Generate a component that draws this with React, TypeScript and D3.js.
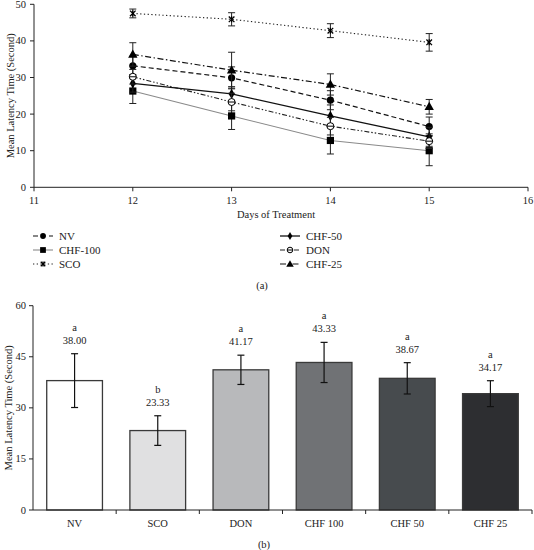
import React from "react";
import * as d3 from "d3";

const days = [12, 13, 14, 15];
const nvVals = [33.2, 29.9, 23.8, 16.6];
const nvErr = [2.6, 3.0, 2.6, 2.6];
const chf100Vals = [26.3, 19.5, 12.8, 10.0];
const chf100Err = [3.4, 3.7, 3.7, 4.1];
const scoVals = [47.5, 45.9, 42.8, 39.6];
const scoErr = [1.2, 1.8, 1.9, 2.4];
const chf50Vals = [28.4, 25.5, 19.5, 13.8];
const chf50Err = [2.4, 2.0, 3.0, 2.6];
const donVals = [30.2, 23.3, 16.7, 12.6];
const donErr = [2.0, 2.4, 2.4, 2.0];
const chf25Vals = [36.3, 32.0, 28.1, 22.0];
const chf25Err = [3.2, 4.9, 2.9, 2.0];

const xTicks = [11, 12, 13, 14, 15, 16];
const yTicksA = [0, 10, 20, 30, 40, 50];

const barCats = ["NV", "SCO", "DON", "CHF 100", "CHF 50", "CHF 25"];
const barVals = [38.0, 23.33, 41.17, 43.33, 38.67, 34.17];
const barErr = [7.9, 4.35, 4.3, 5.9, 4.6, 3.8];
const barLetters = ["a", "b", "a", "a", "a", "a"];
const barColors = ["#ffffff", "#e0e0e1", "#b8b9bb", "#707275", "#474b4e", "#2d2e31"];
const yTicksB = [0, 15, 30, 45, 60];

const FONT = "'Liberation Serif', 'DejaVu Serif', serif";

type Series = {
  name: string;
  vals: number[];
  err: number[];
  dash: string;
  stroke: string;
  width: number;
  marker: string;
};

const series: Series[] = [
  { name: "NV", vals: nvVals, err: nvErr, dash: "5,3", stroke: "#111", width: 1.2, marker: "circle" },
  { name: "CHF-100", vals: chf100Vals, err: chf100Err, dash: "", stroke: "#8a8a8a", width: 1.1, marker: "square" },
  { name: "SCO", vals: scoVals, err: scoErr, dash: "1.3,2.4", stroke: "#222", width: 1.1, marker: "x" },
  { name: "CHF-50", vals: chf50Vals, err: chf50Err, dash: "", stroke: "#111", width: 1.3, marker: "diamond" },
  { name: "DON", vals: donVals, err: donErr, dash: "5,2,1.5,2,1.5,2", stroke: "#222", width: 1.1, marker: "open" },
  { name: "CHF-25", vals: chf25Vals, err: chf25Err, dash: "6,2.5,1.5,2.5", stroke: "#111", width: 1.2, marker: "triangle" },
];

function Marker({ type, x, y, k = 1 }: { type: string; x: number; y: number; k?: number }) {
  if (type === "circle") return <circle cx={x} cy={y} r={3.6 * k} fill="#000" />;
  if (type === "square") return <rect x={x - 3.6 * k} y={y - 3.6 * k} width={7.2 * k} height={7.2 * k} fill="#000" />;
  if (type === "x")
    return (
      <g stroke="#000" strokeWidth={1.3}>
        <line x1={x - 2.8 * k} y1={y - 2.8 * k} x2={x + 2.8 * k} y2={y + 2.8 * k} />
        <line x1={x - 2.8 * k} y1={y + 2.8 * k} x2={x + 2.8 * k} y2={y - 2.8 * k} />
        <line x1={x} y1={y - 3 * k} x2={x} y2={y + 3 * k} />
      </g>
    );
  if (type === "diamond")
    return <path d={d3.symbol(d3.symbolDiamond, 30 * k * k)() as string} transform={`translate(${x},${y})`} fill="#000" />;
  if (type === "open")
    return (
      <g>
        <circle cx={x} cy={y} r={3.5 * k} fill="#fff" stroke="#000" strokeWidth={1} />
        <line x1={x - 3.5 * k} y1={y} x2={x + 3.5 * k} y2={y} stroke="#000" strokeWidth={1} />
      </g>
    );
  return <path d={d3.symbol(d3.symbolTriangle, 38 * k * k)() as string} transform={`translate(${x},${y + 0.5})`} fill="#000" />;
}

export default function App() {
  // Chart (a)
  const xA = d3.scaleLinear().domain([11, 16]).range([34, 528]);
  const yA = d3.scaleLinear().domain([0, 50]).range([187.3, 4.3]);
  const line = (vals: number[]) =>
    d3
      .line<number>()
      .x((_, i) => xA(days[i]))
      .y((v) => yA(v))(vals) as string;

  // Chart (b)
  const xB = d3.scaleBand<string>().domain(barCats).range([33, 532]).paddingInner(0.33).paddingOuter(0.165);
  const yB = d3.scaleLinear().domain([0, 60]).range([510, 305.7]);
  const bandEdges = barCats.map((_, i) => 33 + (i + 1) * ((532 - 33) / barCats.length));

  const legendLeft = [series[0], series[1], series[2]];
  const legendRight = [series[3], series[4], series[5]];
  const legendRows = [236, 250, 264];

  const legendItem = (s: Series, x0: number, y: number, tx: number) => (
    <g key={s.name}>
      <line x1={x0} x2={x0 + 20} y1={y} y2={y} stroke={s.stroke} strokeWidth={s.width} strokeDasharray={s.dash || undefined} />
      <Marker type={s.marker} x={x0 + 10} y={y} k={0.8} />
      <text x={tx} y={y + 4} fontSize={11} fontFamily={FONT} fill="#222">
        {s.name}
      </text>
    </g>
  );

  return (
    <svg width={534} height={550} style={{ position: "absolute", left: 0, top: 0, background: "#fff" }}>
      {/* ---------- Chart (a) ---------- */}
      <g>
        <line x1={34} x2={34} y1={yA(50)} y2={yA(0)} stroke="#222" strokeWidth={1} />
        <line x1={34} x2={528} y1={yA(0)} y2={yA(0)} stroke="#222" strokeWidth={1} />
        {yTicksA.map((t) => (
          <g key={"ya" + t}>
            <line x1={30} x2={34} y1={yA(t)} y2={yA(t)} stroke="#222" />
            <text x={26} y={yA(t) + 3.5} textAnchor="end" fontSize={10.5} fontFamily={FONT} fill="#222">
              {t}
            </text>
          </g>
        ))}
        {xTicks.map((t) => (
          <g key={"xa" + t}>
            <line x1={xA(t)} x2={xA(t)} y1={yA(0)} y2={yA(0) + 4} stroke="#222" />
            <text x={xA(t)} y={204} textAnchor="middle" fontSize={10.5} fontFamily={FONT} fill="#222">
              {t}
            </text>
          </g>
        ))}
        <text x={276} y={218} textAnchor="middle" fontSize={10.5} fontFamily={FONT} fill="#222">
          Days of Treatment
        </text>
        <text
          transform={`translate(14,${(yA(0) + yA(50)) / 2}) rotate(-90)`}
          textAnchor="middle"
          fontSize={10.5}
          fontFamily={FONT}
          fill="#222"
        >
          Mean Latency Time (Second)
        </text>

        {series.map((s) => (
          <g key={"s" + s.name}>
            <path d={line(s.vals)} fill="none" stroke={s.stroke} strokeWidth={s.width} strokeDasharray={s.dash || undefined} />
            {s.vals.map((v, i) => {
              const x = xA(days[i]);
              const y1 = yA(v + s.err[i]);
              const y2 = yA(v - s.err[i]);
              return (
                <g key={i} stroke="#222" strokeWidth={1}>
                  <line x1={x} x2={x} y1={y1} y2={y2} />
                  <line x1={x - 3.5} x2={x + 3.5} y1={y1} y2={y1} />
                  <line x1={x - 3.5} x2={x + 3.5} y1={y2} y2={y2} />
                </g>
              );
            })}
            {s.vals.map((v, i) => (
              <Marker key={"m" + i} type={s.marker} x={xA(days[i])} y={yA(v)} />
            ))}
          </g>
        ))}

        {legendLeft.map((s, i) => legendItem(s, 33, legendRows[i], 59))}
        {legendRight.map((s, i) => legendItem(s, 280, legendRows[i], 306))}

        <text x={262} y={289} textAnchor="middle" fontSize={10.5} fontFamily={FONT} fill="#222">
          (a)
        </text>
      </g>

      {/* ---------- Chart (b) ---------- */}
      <g>
        {barCats.map((c, i) => {
          const x = xB(c) as number;
          const w = xB.bandwidth();
          const v = barVals[i];
          const e = barErr[i];
          const cx = x + w / 2;
          const top = yB(v + e);
          return (
            <g key={"b" + c}>
              <rect x={x} y={yB(v)} width={w} height={yB(0) - yB(v)} fill={barColors[i]} stroke="#3a3a3a" strokeWidth={1.3} />
              <g stroke="#111" strokeWidth={1.2}>
                <line x1={cx} x2={cx} y1={top} y2={yB(v - e)} />
                <line x1={cx - 3.5} x2={cx + 3.5} y1={top} y2={top} />
                <line x1={cx - 3.5} x2={cx + 3.5} y1={yB(v - e)} y2={yB(v - e)} />
              </g>
              <text x={cx} y={top - 10} textAnchor="middle" fontSize={10.5} fontFamily={FONT} fill="#222">
                {v.toFixed(2)}
              </text>
              <text x={cx} y={top - 23} textAnchor="middle" fontSize={10.5} fontFamily={FONT} fill="#222">
                {barLetters[i]}
              </text>
              <text x={cx} y={527} textAnchor="middle" fontSize={10.5} fontFamily={FONT} fill="#222">
                {c}
              </text>
            </g>
          );
        })}
        <line x1={33} x2={33} y1={yB(60)} y2={yB(0)} stroke="#222" strokeWidth={1} />
        <line x1={33} x2={532} y1={yB(0)} y2={yB(0)} stroke="#222" strokeWidth={1} />
        {yTicksB.map((t) => (
          <g key={"yb" + t}>
            <line x1={29} x2={33} y1={yB(t)} y2={yB(t)} stroke="#222" />
            <text x={26} y={yB(t) + 3.5} textAnchor="end" fontSize={10.5} fontFamily={FONT} fill="#222">
              {t}
            </text>
          </g>
        ))}
        {bandEdges.map((bx, i) => (
          <line key={"be" + i} x1={bx} x2={bx} y1={yB(0)} y2={yB(0) + 4} stroke="#222" />
        ))}
        <text
          transform={`translate(12,${(yB(0) + yB(60)) / 2}) rotate(-90)`}
          textAnchor="middle"
          fontSize={10.5}
          fontFamily={FONT}
          fill="#222"
        >
          Mean Latency Time (Second)
        </text>
        <text x={264} y={548} textAnchor="middle" fontSize={10.5} fontFamily={FONT} fill="#222">
          (b)
        </text>
      </g>
    </svg>
  );
}
